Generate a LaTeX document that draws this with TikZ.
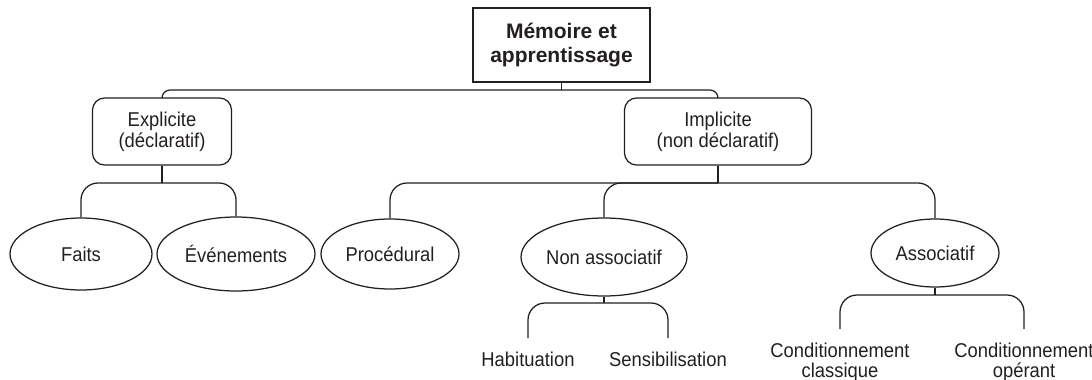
\documentclass[tikz,border=0pt]{standalone}
\usepackage{fontspec}
\setmainfont{Liberation Sans}
\newfontfamily\narrowsans[FakeStretch=0.92]{Liberation Sans}
\usetikzlibrary{shapes.geometric}
\definecolor{ink}{RGB}{35,31,32}
\begin{document}
\begin{tikzpicture}[x=1pt,y=-1pt,
  every node/.style={text=ink, font=\narrowsans\fontsize{20}{21}\selectfont},
  rootbox/.style={draw=ink, line width=1.4pt, minimum width=177pt, minimum height=74pt,
    inner sep=0pt, align=center, font=\fontsize{21}{24}\selectfont\bfseries},
  catbox/.style={draw=ink, line width=1.25pt, rounded corners=12pt, minimum height=67pt,
    inner sep=0pt, align=center},
  oval/.style={ellipse, draw=ink, line width=1.25pt, inner sep=0pt},
  leaf/.style={anchor=north, align=center, inner xsep=0pt, inner ysep=14pt,
    font=\narrowsans\fontsize{20}{19.5}\selectfont},
  link/.style={draw=ink, line width=1.25pt, rounded corners=17pt},
  toplink/.style={draw=ink, line width=1.25pt, rounded corners=8pt}]
\useasboundingbox (0,0) rectangle (1092,380);

% root
\node[rootbox] (root) at (561.5,45) {Mémoire et\\apprentissage};

% two main categories
\node[catbox, minimum width=139pt] (expl) at (162,131.5) {Explicite\\(déclaratif)};
\node[catbox, minimum width=187pt] (impl) at (718,131.5) {Implicite\\(non déclaratif)};

% sub-types
\node[oval, minimum width=142pt, minimum height=72pt] (faits) at (81,254) {Faits};
\node[oval, minimum width=158pt, minimum height=74pt] (evt) at (236,254) {Événements};
\node[oval, minimum width=138pt, minimum height=70pt] (proc) at (390,254) {Procédural};
\node[oval, minimum width=166pt, minimum height=78pt] (nonasso) at (604,257) {Non associatif};
\node[oval, minimum width=128pt, minimum height=68pt] (asso) at (935,253) {Associatif};

% leaves
\node[leaf] (hab) at (528,338) {Habituation};
\node[leaf] (sens) at (668,338) {Sensibilisation};
\node[leaf] (cc) at (840,329) {Conditionnement\\classique};
\node[leaf] (co) at (1024,329) {Conditionnement\\opérant};

% junction points of the brackets
\coordinate (j0) at (561.5,90);
\coordinate (j1) at (162,183);
\coordinate (j2) at (718,183);
\coordinate (j3) at (604,303);
\coordinate (j4) at (935,295);

% connectors
\draw[toplink] (root.south) -- (j0);
\draw[toplink] (expl.north) |- (j0) -| (impl.north);

\draw[link] (expl.south) -- (j1);
\draw[link] (faits.north) |- (j1) -| (evt.north);

\draw[link] (impl.south) -- (j2);
\draw[link] (proc.north) |- (j2) -| (asso.north);
\draw[link] (nonasso.north) |- (j2);

\draw[link] (nonasso.south) -- (j3);
\draw[link] (hab.north) |- (j3) -| (sens.north);

\draw[link] (asso.south) -- (j4);
\draw[link] (cc.north) |- (j4) -| (co.north);
\end{tikzpicture}
\end{document}
